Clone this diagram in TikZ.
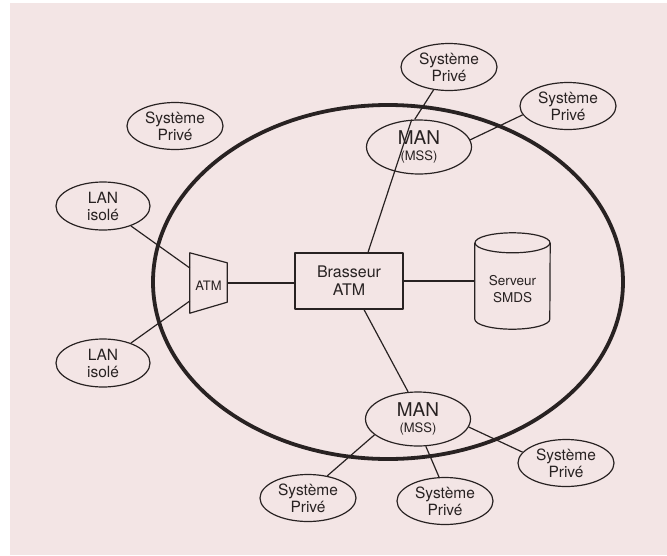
\documentclass[tikz,border=0pt]{standalone}
\usepackage{fontspec}
\setmainfont{TeX Gyre Heros}
\usetikzlibrary{shapes.geometric,calc}
\definecolor{paper}{RGB}{243,229,229}
\definecolor{ink}{RGB}{40,34,34}
\begin{document}
\begin{tikzpicture}[x=1pt,y=-1pt,line join=round,
  every node/.style={text=ink,align=center,inner sep=0pt},
  oval/.style={ellipse,draw=ink,line width=1.2pt,fill=paper},
  sysbox/.style={oval,minimum width=96pt,minimum height=47pt,font=\fontsize{15.5}{17}\selectfont},
  lanbox/.style={oval,minimum width=94pt,minimum height=48pt,font=\fontsize{15.5}{17}\selectfont},
  manbox/.style={oval,minimum width=105pt,minimum height=54pt,font=\fontsize{19}{16}\selectfont},
  link/.style={draw=ink,line width=1.2pt}]
\useasboundingbox (0,0) rectangle (667,555);
\fill[white] (0,0) rectangle (667,555);
\fill[paper] (10,3) rectangle (667,555);

% the backbone ring
\draw[ink,line width=3.8pt] (388,282) ellipse [x radius=235pt,y radius=177pt];

% private systems and LANs
\node[sysbox] (sp0) at (175,126) {Système\\Privé};
\node[sysbox] (sp1) at (449,67) {Système\\Privé};
\node[sysbox] (sp2) at (568,106) {Système\\Privé};
\node[sysbox] (sp3) at (308,498) {Système\\Privé};
\node[sysbox] (sp4) at (445,501) {Système\\Privé};
\node[sysbox] (sp5) at (566,463) {Système\\Privé};
\node[lanbox] (lan1) at (103,206) {LAN\\isolé};
\node[lanbox] (lan2) at (103,363) {LAN\\isolé};

% metropolitan networks
\node[manbox] (man1) at (419,147) {MAN\\\fontsize{13}{15}\selectfont (MSS)};
\node[manbox] (man2) at (418,419) {MAN\\\fontsize{13}{15}\selectfont (MSS)};

% ATM access (trapezoid)
\node[minimum width=37pt,minimum height=60pt] (atm) at (208.5,283) {};
\draw[link,fill=paper] (atm.north west) -- ([yshift=-10pt]atm.north east)
  -- ([yshift=11pt]atm.south east) -- (atm.south west) -- cycle;
\node[font=\fontsize{13}{14}\selectfont] (atmtext) at ([yshift=-3pt]atm.center) {ATM};

% ATM switch
\node[draw=ink,line width=1.2pt,fill=paper,minimum width=108pt,minimum height=56pt,
  font=\fontsize{16}{18}\selectfont] (brass) at (349,281) {Brasseur\\ATM};

% SMDS server (cylinder)
\node[minimum width=75pt,minimum height=96pt] (srv) at (512.5,281) {};
\draw[link,fill=paper] ([yshift=-10pt]srv.north west) -- ([yshift=10pt]srv.south west)
  arc[start angle=180,end angle=360,x radius=37.5pt,y radius=10pt]
  -- ([yshift=-10pt]srv.north east);
\draw[link] ([yshift=-10pt]srv.north) ellipse [x radius=37.5pt,y radius=10pt];
\node[font=\fontsize{13.5}{17}\selectfont] (srvtext) at ([yshift=-8pt]srv.center) {Serveur\\SMDS};

% links
\draw[link] (lan1) -- ([yshift=15pt]atm.west);
\draw[link] (lan2) -- ([yshift=-18pt]atm.west);
\draw[link] (atm.east) -- (atm.east -| brass.west);
\draw[link] (brass.east) -- (brass.east -| srv.west);
\draw[link] ([xshift=19pt]brass.north) -- (man1.105);
\draw[link] ([xshift=15pt]brass.south) -- (man2.110);
\draw[link] (man1.99) -- (sp1.236);
\draw[link] (man1.8) -- (sp2.191);
\draw[link] (man2.200) -- (sp3.49);
\draw[link] (man2.286) -- (sp4.104);
\draw[link] (man2.351) -- (sp5.166);
\end{tikzpicture}
\end{document}
